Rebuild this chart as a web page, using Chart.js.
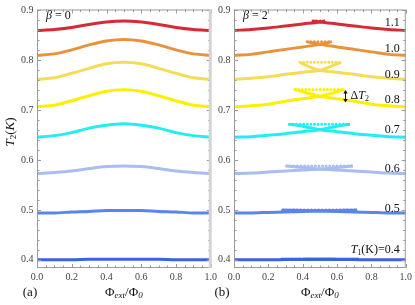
<!DOCTYPE html>
<html>
<head>
<meta charset="utf-8">
<script src="https://cdn.jsdelivr.net/npm/chart.js@4.4.1/dist/chart.umd.min.js"></script>
<style>
  html, body { margin:0; padding:0; background:#fff; }
  #wrap { position:relative; width:415px; height:305px; overflow:hidden; }
  canvas { position:absolute; top:0; }
  #ca { left:0; }
  #cb { left:213px; }
</style>
</head>
<body>
<div id="wrap">
  <canvas id="ca" width="220" height="305"></canvas>
  <canvas id="cb" width="202" height="305"></canvas>
</div>
<script>
// ─── Data ─────────────────────────────────────────────────────────────────────
const PHI     = [0, 0.1, 0.2, 0.3, 0.4, 0.5, 0.6, 0.7, 0.8, 0.9, 1.0];
const X_TICKS = [0, 0.2, 0.4, 0.6, 0.8, 1.0];
const Y_TICKS = [0.4, 0.5, 0.6, 0.7, 0.8, 0.9];
const T1      = [0.4, 0.5, 0.6, 0.7, 0.8, 0.9, 1.0, 1.1];
const COLORS  = ['#3b62e3','#5b84ec','#a8bdf0','#22eef2','#faf000','#f5dc58','#e8923c','#d62a36'];

// beta = 0 : T2 at every PHI
const T2_BETA0 = [
  [0.400,0.400,0.400,0.401,0.401,0.401,0.401,0.401,0.400,0.400,0.400],
  [0.494,0.494,0.496,0.497,0.499,0.499,0.499,0.497,0.496,0.494,0.494],
  [0.573,0.575,0.578,0.583,0.587,0.588,0.587,0.583,0.578,0.575,0.573],
  [0.646,0.649,0.655,0.664,0.670,0.673,0.670,0.664,0.655,0.649,0.646],
  [0.707,0.710,0.719,0.729,0.738,0.741,0.738,0.729,0.719,0.710,0.707],
  [0.762,0.765,0.774,0.784,0.793,0.796,0.793,0.784,0.774,0.765,0.762],
  [0.810,0.813,0.821,0.831,0.839,0.842,0.839,0.831,0.821,0.813,0.810],
  [0.860,0.862,0.866,0.872,0.877,0.879,0.877,0.872,0.866,0.862,0.860],
];

// beta = 2 : swallowtail, cusps of the unstable (dotted) branch
const CUSP_L = [0.277, 0.283, 0.306, 0.322, 0.355, 0.384, 0.426, 0.460];
const CUSP_R = [0.727, 0.717, 0.692, 0.676, 0.644, 0.624, 0.570, 0.530];
const T2_TOP = [0.4012, 0.4998, 0.588, 0.672, 0.7414, 0.796, 0.8375, 0.879];
// rising branch, at the PHI values below CUSP_R
const LEFT_BRANCH = [
  [0.400,0.400,0.400,0.4005,0.4008,0.401,0.401,0.4012],
  [0.494,0.494,0.495,0.496,0.497,0.498,0.499,0.4995],
  [0.573,0.574,0.576,0.578,0.580,0.582,0.585],
  [0.646,0.647,0.650,0.653,0.657,0.661,0.668],
  [0.707,0.709,0.712,0.718,0.723,0.728,0.737],
  [0.762,0.764,0.767,0.772,0.776,0.780,0.793],
  [0.810,0.812,0.817,0.822,0.827,0.832],
  [0.860,0.862,0.865,0.869,0.873,0.877],
];
// falling branch, at the PHI values above CUSP_L
const RIGHT_BRANCH = [
  [0.4012,0.401,0.401,0.4008,0.4005,0.400,0.400,0.400],
  [0.4995,0.499,0.498,0.497,0.496,0.495,0.494,0.494],
  [0.585,0.582,0.580,0.578,0.576,0.574,0.573],
  [0.668,0.661,0.657,0.653,0.650,0.647,0.646],
  [0.737,0.728,0.723,0.718,0.712,0.709,0.707],
  [0.793,0.780,0.776,0.772,0.767,0.764,0.762],
  [0.832,0.827,0.822,0.817,0.812,0.810],
  [0.877,0.873,0.869,0.865,0.862,0.860],
];

// ─── Helpers ──────────────────────────────────────────────────────────────────
const SERIF = '"Liberation Serif", "DejaVu Serif", serif';
const Y_MIN = 0.3835, Y_MAX = 0.902;

// parts: [text, size, italic, dy]
function rich(ctx, parts, x, y, align) {
  let w = 0;
  parts.forEach(p => { ctx.font = `${p[2]?'italic ':''}${p[1]}px ${SERIF}`; w += ctx.measureText(p[0]).width; });
  let cx = align === 'center' ? x - w/2 : align === 'right' ? x - w : x;
  ctx.textAlign = 'left'; ctx.textBaseline = 'middle'; ctx.fillStyle = '#111';
  parts.forEach(p => {
    ctx.font = `${p[2]?'italic ':''}${p[1]}px ${SERIF}`;
    ctx.fillText(p[0], cx, y + (p[3]||0));
    cx += ctx.measureText(p[0]).width;
  });
}

const framePlugin = {
  id: 'frame',
  afterDraw(chart) {
    const {ctx, chartArea:a, scales:{x, y}} = chart;
    ctx.save();
    ctx.strokeStyle = '#9a9a9a'; ctx.lineWidth = 1;
    ctx.strokeRect(a.left + 0.5, a.top + 0.5, a.right - a.left - 1, a.bottom - a.top - 1);
    ctx.beginPath();
    for (let i = 0; i <= 20; i++) {
      const px = Math.round(x.getPixelForValue(i * 0.05)) + 0.5;
      const len = i % 4 === 0 ? 4 : 2.5;
      ctx.moveTo(px, a.bottom); ctx.lineTo(px, a.bottom - len);
      ctx.moveTo(px, a.top); ctx.lineTo(px, a.top + len);
    }
    for (let i = 0; i <= 25; i++) {
      const py = Math.round(y.getPixelForValue(0.4 + i * 0.02)) + 0.5;
      const len = i % 5 === 0 ? 4 : 2.5;
      ctx.moveTo(a.left, py); ctx.lineTo(a.left + len, py);
      ctx.moveTo(a.right, py); ctx.lineTo(a.right - len, py);
    }
    ctx.stroke();
    // x title
    const cx = (a.left + a.right) / 2;
    rich(ctx, [['Φ',13],['ext',9,true,3],['/Φ',13],['0',9,true,3]], cx, 293, 'center');
    ctx.restore();
  }
};

function scalesFor(yWidth) {
  return {
    x: {
      type:'linear', min:0, max:1,
      afterBuildTicks: s => { s.ticks = X_TICKS.map(v => ({value:v})); },
      afterFit: s => { s.height = 37; },
      ticks: { callback: v => v.toFixed(1), font:{family:SERIF, size:10}, color:'#444', padding:3, maxRotation:0 },
      grid: { display:false, drawTicks:false }, border: { display:false },
    },
    y: {
      type:'linear', min:Y_MIN, max:Y_MAX,
      afterBuildTicks: s => { s.ticks = Y_TICKS.map(v => ({value:v})); },
      afterFit: s => { s.width = yWidth; },
      ticks: { callback: v => v.toFixed(1), font:{family:SERIF, size:10}, color:'#444', padding:3.5 },
      grid: { display:false, drawTicks:false }, border: { display:false },
    }
  };
}

const LINE = { showLine:true, pointRadius:0, borderWidth:3, cubicInterpolationMode:'monotone' };

// ─── Panel (a): beta = 0 ──────────────────────────────────────────────────────
new Chart(document.getElementById('ca'), {
  type:'scatter',
  data: {
    datasets: T1.map((t, i) => ({
      ...LINE, borderColor:COLORS[i],
      data: PHI.map((x, j) => ({x, y:T2_BETA0[i][j]})),
    }))
  },
  options: {
    responsive:false, animation:false, devicePixelRatio:1,
    layout: { padding:{top:6, right:9, bottom:0, left:0} },
    plugins: { legend:{display:false}, tooltip:{enabled:false} },
    scales: scalesFor(37),
  },
  plugins: [framePlugin, {
    id:'textA',
    afterDraw(chart) {
      const {ctx, chartArea:a} = chart;
      ctx.save();
      // thick light edge between the panels
      ctx.fillStyle = '#d4d4d4';
      ctx.fillRect(a.right - 2, a.top, 3, a.bottom - a.top);
      rich(ctx, [['β',12,true],[' = 0',12]], a.left + 9, 16, 'left');
      rich(ctx, [['(a)',13]], 30, 293, 'center');
      ctx.translate(11, 132); ctx.rotate(-Math.PI/2);
      rich(ctx, [['T',13,true],['2',9,false,3],['(',13],['K',13,true],[')',13]], 0, 0, 'center');
      ctx.restore();
    }
  }]
});

// ─── Panel (b): beta = 2 ──────────────────────────────────────────────────────
const dsB = [];
T1.forEach((t, i) => {
  dsB.push({ ...LINE, borderColor:COLORS[i],
    data: PHI.filter(p => p < CUSP_R[i]).map((x, j) => ({x, y:LEFT_BRANCH[i][j]}))
             .concat([{x:CUSP_R[i], y:T2_TOP[i]}]) });
  dsB.push({ ...LINE, borderColor:COLORS[i],
    data: [{x:CUSP_L[i], y:T2_TOP[i]}]
             .concat(PHI.filter(p => p > CUSP_L[i]).map((x, j) => ({x, y:RIGHT_BRANCH[i][j]}))) });
  dsB.push({ showLine:true, pointRadius:0, borderWidth:3, borderColor:COLORS[i],
    borderDash:[0, 3.6], borderCapStyle:'round',
    data: [{x:CUSP_L[i], y:T2_TOP[i]}, {x:CUSP_R[i], y:T2_TOP[i]}] });
});

const LABEL_Y = [0.420, 0.503, 0.583, 0.660, 0.720, 0.771, 0.824, 0.876];

new Chart(document.getElementById('cb'), {
  type:'scatter',
  data: { datasets: dsB },
  options: {
    responsive:false, animation:false, devicePixelRatio:1,
    layout: { padding:{top:6, right:8, bottom:0, left:0} },
    plugins: { legend:{display:false}, tooltip:{enabled:false} },
    scales: scalesFor(21),
  },
  plugins: [framePlugin, {
    id:'textB',
    afterDraw(chart) {
      const {ctx, chartArea:a, scales:{x, y}} = chart;
      ctx.save();
      rich(ctx, [['β',12,true],[' = 2',12]], a.left + 9, 16, 'left');
      rich(ctx, [['(b)',13]], 9, 293, 'center');
      const rx = x.getPixelForValue(0.965);
      T1.forEach((t, i) => {
        const py = y.getPixelForValue(LABEL_Y[i]);
        if (i === 0) rich(ctx, [['T',12,true],['1',8,false,3],['(K)=' + t.toFixed(1),12]], rx, py, 'right');
        else rich(ctx, [[t.toFixed(1),12]], rx, py, 'right');
      });
      // Delta T2 arrow on the 0.8 curve
      const ax = Math.round(x.getPixelForValue(CUSP_R[4])) + 0.5;
      const y1 = y.getPixelForValue(0.7404), y2 = y.getPixelForValue(0.7155);
      ctx.strokeStyle = '#111'; ctx.fillStyle = '#111'; ctx.lineWidth = 1;
      ctx.beginPath(); ctx.moveTo(ax, y1 + 2); ctx.lineTo(ax, y2 - 2); ctx.stroke();
      ctx.beginPath();
      ctx.moveTo(ax, y1); ctx.lineTo(ax - 2.2, y1 + 3.5); ctx.lineTo(ax + 2.2, y1 + 3.5); ctx.closePath();
      ctx.moveTo(ax, y2); ctx.lineTo(ax - 2.2, y2 - 3.5); ctx.lineTo(ax + 2.2, y2 - 3.5); ctx.closePath();
      ctx.fill();
      rich(ctx, [['Δ',12],['T',12,true],['2',8,false,3]], ax + 5, y.getPixelForValue(0.728), 'left');
      ctx.restore();
    }
  }]
});
</script>
</body>
</html>
